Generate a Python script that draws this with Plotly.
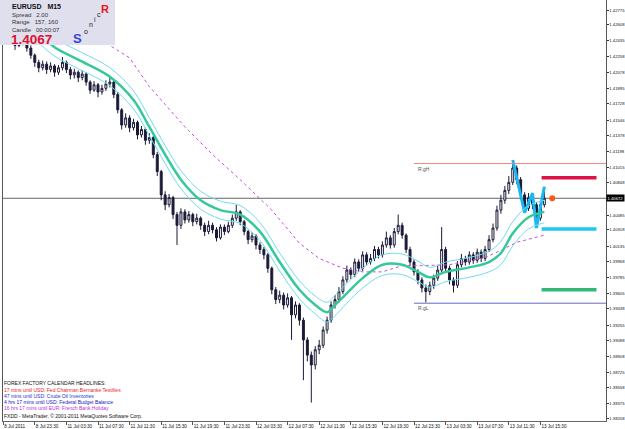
import plotly.graph_objects as go

# ---------------- data ----------------
opens = [1.4250,1.4255,1.4257,1.4244,1.4238,1.4246,1.4242,1.4235,1.4227,1.4219,
         1.4213,1.4217,1.4211,1.4215,1.4208,1.4213,1.4219,1.4211,1.4205,1.4208,
         1.4202,1.4206,1.4197,1.4188,1.4194,1.4186,1.4190,1.4195,1.4197,1.4183,
         1.4166,1.4149,1.4157,1.4146,1.4152,1.4138,1.4144,1.4132,1.4135,1.4116,
         1.4097,1.4071,1.4060,1.4068,1.4049,1.4037,1.4052,1.4043,1.4049,1.4041,
         1.4045,1.4037,1.4030,1.4037,1.4032,1.4023,1.4035,1.4030,1.4037,1.4045,
         1.4052,1.4041,1.4030,1.4021,1.4025,1.4015,1.4010,1.4004,1.3989,1.3965,
         1.3954,1.3959,1.3948,1.3956,1.3937,1.3948,1.3931,1.3909,1.3892,1.3881,
         1.3898,1.3903,1.3920,1.3931,1.3948,1.3954,1.3963,1.3976,1.3987,1.3982,
         1.3996,1.3989,1.4004,1.3996,1.4000,1.4010,1.4004,1.4015,1.4023,1.4015,
         1.4030,1.4037,1.4026,1.4010,1.3996,1.3985,1.3976,1.3967,1.3963,1.3970,
         1.3978,1.3987,1.4010,1.3989,1.3976,1.3970,1.3993,1.4000,1.3996,1.4004,
         1.3998,1.4007,1.4000,1.4010,1.4021,1.4034,1.4054,1.4065,1.4076,1.4085,
         1.4101,1.4088,1.4071,1.4056,1.4068,1.4060,1.4045,1.4060]
highs = [1.4260,1.4263,1.4259,1.4248,1.4250,1.4249,1.4245,1.4238,1.4229,1.4222,
         1.4221,1.4220,1.4219,1.4217,1.4216,1.4225,1.4221,1.4214,1.4212,1.4210,
         1.4210,1.4208,1.4199,1.4198,1.4196,1.4194,1.4199,1.4203,1.4199,1.4186,
         1.4168,1.4162,1.4160,1.4156,1.4154,1.4148,1.4146,1.4140,1.4137,1.4119,
         1.4099,1.4075,1.4072,1.4070,1.4052,1.4056,1.4055,1.4053,1.4051,1.4050,
         1.4047,1.4040,1.4042,1.4040,1.4035,1.4038,1.4038,1.4041,1.4049,1.4060,
         1.4054,1.4043,1.4032,1.4029,1.4027,1.4018,1.4013,1.4006,1.3991,1.3968,
         1.3964,1.3962,1.3961,1.3958,1.3952,1.3950,1.3934,1.3912,1.3896,1.3902,
         1.3909,1.3924,1.3935,1.3952,1.3959,1.3968,1.3980,1.3992,1.3990,1.4000,
         1.3999,1.4008,1.4007,1.4005,1.4014,1.4013,1.4019,1.4030,1.4026,1.4034,
         1.4049,1.4040,1.4028,1.4013,1.3999,1.3988,1.3979,1.3971,1.3974,1.3982,
         1.3992,1.4035,1.4013,1.3992,1.3979,1.3997,1.4005,1.4003,1.4008,1.4007,
         1.4011,1.4010,1.4014,1.4026,1.4039,1.4059,1.4071,1.4081,1.4092,1.4110,
         1.4104,1.4091,1.4074,1.4073,1.4073,1.4063,1.4064,1.4080]
lows = [1.4246,1.4251,1.4240,1.4233,1.4236,1.4238,1.4231,1.4223,1.4214,1.4208,
        1.4210,1.4206,1.4208,1.4203,1.4205,1.4210,1.4207,1.4200,1.4201,1.4197,
        1.4199,1.4193,1.4184,1.4186,1.4180,1.4183,1.4187,1.4191,1.4179,1.4162,
        1.4144,1.4146,1.4141,1.4143,1.4133,1.4135,1.4127,1.4128,1.4112,1.4092,
        1.4065,1.4054,1.4057,1.4044,1.4015,1.4033,1.4039,1.4040,1.4036,1.4038,
        1.4032,1.4025,1.4027,1.4028,1.4019,1.4021,1.4026,1.4028,1.4034,1.4042,
        1.4037,1.4026,1.4016,1.4018,1.4010,1.4005,1.3999,1.3984,1.3960,1.3949,
        1.3950,1.3943,1.3945,1.3909,1.3933,1.3925,1.3864,1.3885,1.3839,1.3876,
        1.3893,1.3900,1.3916,1.3928,1.3944,1.3951,1.3960,1.3973,1.3977,1.3979,
        1.3985,1.3986,1.3992,1.3993,1.3997,1.4000,1.4001,1.4012,1.4011,1.4012,
        1.4027,1.4022,1.4006,1.3992,1.3981,1.3971,1.3962,1.3951,1.3959,1.3966,
        1.3975,1.3984,1.3985,1.3971,1.3962,1.3967,1.3990,1.3992,1.3993,1.3994,
        1.3995,1.3996,1.3997,1.4007,1.4018,1.4031,1.4050,1.4061,1.4072,1.4082,
        1.4083,1.4066,1.4051,1.4053,1.4055,1.4034,1.4042,1.4057]
closes = [1.4255,1.4257,1.4244,1.4238,1.4246,1.4242,1.4235,1.4227,1.4219,1.4213,
          1.4217,1.4211,1.4215,1.4208,1.4213,1.4219,1.4211,1.4205,1.4208,1.4202,
          1.4206,1.4197,1.4188,1.4194,1.4186,1.4190,1.4195,1.4197,1.4183,1.4166,
          1.4149,1.4157,1.4146,1.4152,1.4138,1.4144,1.4132,1.4135,1.4116,1.4097,
          1.4071,1.4060,1.4068,1.4049,1.4037,1.4052,1.4043,1.4049,1.4041,1.4045,
          1.4037,1.4030,1.4037,1.4032,1.4023,1.4035,1.4030,1.4037,1.4045,1.4052,
          1.4041,1.4030,1.4021,1.4025,1.4015,1.4010,1.4004,1.3989,1.3965,1.3954,
          1.3959,1.3948,1.3956,1.3937,1.3948,1.3931,1.3909,1.3892,1.3881,1.3898,
          1.3903,1.3920,1.3931,1.3948,1.3954,1.3963,1.3976,1.3987,1.3982,1.3996,
          1.3989,1.4004,1.3996,1.4000,1.4010,1.4004,1.4015,1.4023,1.4015,1.4030,
          1.4037,1.4026,1.4010,1.3996,1.3985,1.3976,1.3967,1.3963,1.3970,1.3978,
          1.3987,1.4010,1.3989,1.3976,1.3970,1.3993,1.4000,1.3996,1.4004,1.3998,
          1.4007,1.4000,1.4010,1.4021,1.4034,1.4054,1.4065,1.4076,1.4085,1.4101,
          1.4088,1.4071,1.4056,1.4068,1.4060,1.4045,1.4060,1.40672]
bars = list(range(len(closes)))

# moving average + envelope (read at sample bars)
ma_bars = [8,13,19,27,33,37,41,45,50,55,60,65,70,75,79,82,84,87,91,96,101,105,108,112,118,123,126,129,133,137]
ma_vals = [1.4255,1.4236,1.4222,1.4203,1.4177,1.4147,1.4116,1.4088,1.4065,1.4054,1.4049,1.4030,1.3996,1.3965,1.3948,
           1.3940,1.3948,1.3961,1.3978,1.3993,1.3993,1.3985,1.3979,1.3985,1.3990,1.3996,1.4006,1.4028,1.4046,1.4052]
env_up = [1.4265,1.4246,1.4232,1.4213,1.4187,1.4157,1.4126,1.4098,1.4075,1.4064,1.4059,1.4040,1.4006,1.3975,1.3958,
          1.3951,1.3959,1.3972,1.3989,1.4004,1.4005,1.3997,1.3990,1.3996,1.4001,1.4008,1.4019,1.4041,1.4059,1.4065]
env_dn = [1.4245,1.4226,1.4212,1.4193,1.4167,1.4137,1.4106,1.4078,1.4055,1.4044,1.4039,1.4020,1.3986,1.3955,1.3938,
          1.3929,1.3936,1.3950,1.3967,1.3981,1.3982,1.3974,1.3968,1.3974,1.3979,1.3985,1.3993,1.4014,1.4033,1.4040]
slow_bars = [24,27,32,37,46,53,60,68,75,80,86,91,96,101,106,113,122,126,130,137]
slow_vals = [1.4250,1.4238,1.4224,1.4192,1.4147,1.4116,1.4088,1.4054,1.4017,1.4000,1.3989,1.3985,1.3985,1.3992,
             1.3992,1.3993,1.4001,1.4009,1.4018,1.4026]
zig_bars = [129,132,134,135,137]
zig_vals = [1.4110,1.4051,1.4073,1.4034,1.4080]

range_high = 1.4106
range_low = 1.3950
level_red = 1.4090
level_cyan = 1.4033
level_green = 1.3965

x_ticks = [0,8,16,24,32,40,48,56,64,72,80,88,96,104,112,120,128,136]
x_labels = ["8 Jul 2011","8 Jul 23:30","11 Jul 03:30","11 Jul 07:30","11 Jul 11:30","11 Jul 15:30",
            "11 Jul 19:30","11 Jul 23:30","12 Jul 03:30","12 Jul 07:30","12 Jul 11:30","12 Jul 15:30",
            "12 Jul 19:30","12 Jul 23:30","13 Jul 03:30","13 Jul 07:30","13 Jul 11:30","13 Jul 15:30"]
y_ticks = [1.42775,1.42608,1.42435,1.42258,1.42078,1.41895,1.41728,1.41546,1.41378,1.41198,1.41015,1.40848,
           1.40485,1.40318,1.40135,1.39968,1.39785,1.39605,1.39438,1.39255,1.39088,1.38908,1.38725,1.38558,
           1.38375,1.38208]

headlines = [("FOREX FACTORY CALENDAR HEADLINES:", "#111111"),
             ("17 mins until USD: Fed Chairman Bernanke Testifies", "#ee2222"),
             ("47 mins until USD: Crude Oil Inventories", "#2233dd"),
             ("4 hrs 17 mins until USD: Federal Budget Balance", "#2222bb"),
             ("16 hrs 17 mins until EUR: French Bank Holiday", "#bb33dd")]

# ---------------- layout helpers ----------------
W, H = 625, 429
ML, MR, MT, MB = 3, 19, 0, 8
PW, PH = W - ML - MR, H - MT - MB
def px(x):
    return (x - ML) / PW
def py(y):
    return (H - MB - y) / PH

FONT = "Liberation Sans"
fig = go.Figure()

# current price line
fig.add_shape(type="line", xref="paper", x0=0, x1=1, yref="y", y0=closes[-1], y1=closes[-1],
              line=dict(color="#666666", width=1), layer="below")

# zigzag (under candles)
fig.add_trace(go.Scatter(x=zig_bars, y=zig_vals, mode="lines",
                         line=dict(color="#1ab8f0", width=3), hoverinfo="skip"))

fig.add_trace(go.Candlestick(
    x=bars, open=opens, high=highs, low=lows, close=closes,
    increasing=dict(line=dict(color="#1a1a38", width=1), fillcolor="#ffffff"),
    decreasing=dict(line=dict(color="#1a1a38", width=1), fillcolor="#1a1a38"),
    whiskerwidth=0, hoverinfo="skip"))

fig.add_trace(go.Scatter(x=slow_bars, y=slow_vals, mode="lines",
                         line=dict(color="#c84fd8", width=1, dash="dot"), hoverinfo="skip"))
fig.add_trace(go.Scatter(x=ma_bars, y=env_up, mode="lines", line=dict(color="#6fdcef", width=1, shape="spline"), hoverinfo="skip"))
fig.add_trace(go.Scatter(x=ma_bars, y=env_dn, mode="lines", line=dict(color="#6fdcef", width=1, shape="spline"), hoverinfo="skip"))
fig.add_trace(go.Scatter(x=ma_bars, y=ma_vals, mode="lines", line=dict(color="#33c99b", width=2.5, shape="spline"), hoverinfo="skip"))

# range lines
fig.add_trace(go.Scatter(x=[104, 153], y=[range_high, range_high], mode="lines",
                         line=dict(color="#ee8877", width=1), hoverinfo="skip"))
fig.add_trace(go.Scatter(x=[104, 153], y=[range_low, range_low], mode="lines",
                         line=dict(color="#6666cc", width=1), hoverinfo="skip"))
for lvl, col in [(level_red, "#dd1144"), (level_cyan, "#22c8f0"), (level_green, "#33b877")]:
    fig.add_trace(go.Scatter(x=[136.3, 150.2], y=[lvl, lvl], mode="lines",
                             line=dict(color=col, width=3.5), hoverinfo="skip"))
fig.add_trace(go.Scatter(x=[139], y=[closes[-1]], mode="markers",
                         marker=dict(color="#ff5511", size=6), hoverinfo="skip"))

ann = []
ann.append(dict(x=104.5, y=range_high, xref="x", yref="y", text="R.gH", showarrow=False,
                xanchor="left", yanchor="top", font=dict(family=FONT, size=5, color="#555555")))
ann.append(dict(x=104.5, y=range_low, xref="x", yref="y", text="R.gL", showarrow=False,
                xanchor="left", yanchor="top", font=dict(family=FONT, size=5, color="#555555")))

# info box
fig.add_shape(type="rect", xref="paper", yref="paper", x0=px(0), x1=px(115), y0=py(45), y1=py(0),
              fillcolor="#dfdfee", line=dict(width=0), layer="above")
def txt(x, y, s, size, color, bold=False, family=FONT):
    ann.append(dict(x=px(x), y=py(y), xref="paper", yref="paper", text=("<b>%s</b>" % s) if bold else s,
                    showarrow=False, xanchor="left", yanchor="middle", borderpad=0,
                    font=dict(family=family, size=size, color=color)))
txt(11, 6, "EURUSD   M15", 7, "#111111", bold=True)
txt(11, 14.5, "Spread   2.00", 6, "#333333")
txt(11, 22, "Range   157, 160", 6, "#333333")
txt(11, 29.5, "Candle   00:00:07", 6, "#333333")
txt(10, 40, "%.4f" % closes[-1], 13.5, "#dd1133", bold=True)
txt(72, 39, "S", 13, "#3344dd", bold=True)
txt(83, 31, "o", 7, "#222222")
txt(88, 25, "n", 7, "#222222")
txt(92.5, 19.5, "i", 7, "#222222")
txt(95.5, 14, "c", 7, "#222222")
txt(100, 9, "R", 11, "#ee1111", bold=True)

# headlines
hy = [383, 390, 396, 402, 408]
for (s, c), yy in zip(headlines, hy):
    txt(3, yy, s, 5, c)
txt(3, 416, "FXDD - MetaTrader, \u00a9 2001-2011 MetaQuotes Software Corp.", 5, "#111111")

# current price tag
ann.append(dict(x=1, y=closes[-1], xref="paper", yref="y", text="%.5f" % closes[-1], showarrow=False,
                xanchor="left", yanchor="middle", xshift=0, bgcolor="#000000", borderpad=0.5,
                font=dict(family=FONT, size=4.2, color="#ffffff")))

fig.update_layout(
    width=W, height=H, margin=dict(l=ML, r=MR, t=MT, b=MB, autoexpand=False),
    paper_bgcolor="white", plot_bgcolor="white", showlegend=False,
    annotations=ann,
    xaxis=dict(range=[-0.05, -0.05 + PW / 3.95], tickvals=x_ticks, ticktext=x_labels,
               ticks="outside", ticklen=3, tickcolor="#555555", ticklabelposition="outside right",
               tickangle=0, automargin=False, ticklabelstandoff=0,
               tickfont=dict(family=FONT, size=4.6, color="#111111"),
               showline=True, linecolor="#666666", mirror=True, showgrid=False, zeroline=False,
               rangeslider=dict(visible=False), fixedrange=True),
    yaxis=dict(range=[1.38184, 1.42887], side="right", tickvals=y_ticks, automargin=False,
               ticktext=["%.5f" % v for v in y_ticks], ticks="outside", ticklen=1.5, tickcolor="#333333",
               ticklabelstandoff=0,
               tickfont=dict(family=FONT, size=4.2, color="#111111"),
               showline=True, linecolor="#555555", mirror=True, showgrid=False, zeroline=False,
               fixedrange=True),
)
fig.write_html("out.html")
